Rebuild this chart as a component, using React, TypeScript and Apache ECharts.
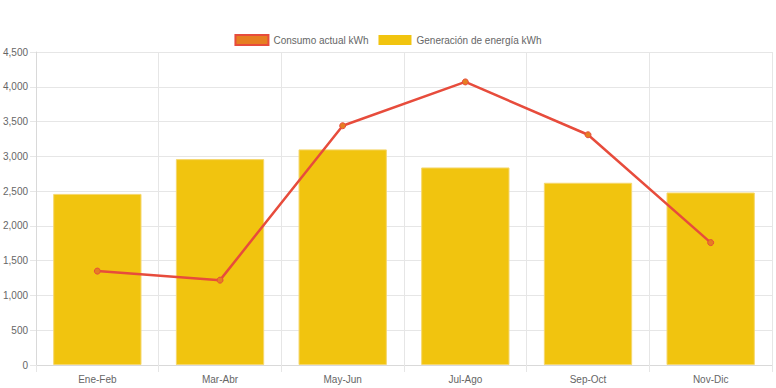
import React, { useEffect, useRef } from "react";
import * as echarts from "echarts";

const categories = ["Ene-Feb", "Mar-Abr", "May-Jun", "Jul-Ago", "Sep-Oct", "Nov-Dic"];
const consumo = [1350, 1220, 3440, 4070, 3310, 1760];
const generacion = [2460, 2960, 3100, 2840, 2620, 2480];
const yTicks = { min: 0, max: 4500, interval: 500 };

const FONT = "Liberation Sans, Arial, Helvetica, sans-serif";

export default function App() {
  const ref = useRef<HTMLDivElement>(null);
  useEffect(() => {
    if (!ref.current) return;
    const chart = echarts.init(ref.current, undefined, { renderer: "svg" });
    chart.setOption({
      animation: false,
      textStyle: { fontFamily: FONT },
      legend: {
        top: 29,
        left: "center",
        itemWidth: 33,
        itemHeight: 10,
        itemGap: 10,
        textStyle: { fontSize: 10, color: "#666", fontFamily: FONT },
        data: [
          {
            name: "Consumo actual kWh",
            icon: "rect",
            itemStyle: { color: "#E67E22", borderColor: "#E74C3C", borderWidth: 2 },
          },
          {
            name: "Generación de energía kWh",
            icon: "rect",
            itemStyle: { color: "#F1C40F", borderColor: "#F1C40F", borderWidth: 0 },
          },
        ],
      },
      grid: { left: 35, right: 4, top: 52, bottom: 23, containLabel: false },
      xAxis: {
        type: "category",
        data: categories,
        boundaryGap: true,
        axisLine: { show: true, lineStyle: { color: "#d9d9d9" } },
        axisTick: { show: true, length: 7, alignWithLabel: false, lineStyle: { color: "#e6e6e6" } },
        splitLine: { show: true, lineStyle: { color: "#e6e6e6" } },
        axisLabel: { fontSize: 10, color: "#666", margin: 9, fontFamily: FONT },
      },
      yAxis: {
        type: "value",
        min: yTicks.min,
        max: yTicks.max,
        interval: yTicks.interval,
        axisLine: { show: true, lineStyle: { color: "#d9d9d9" } },
        axisTick: { show: true, length: 6, lineStyle: { color: "#e6e6e6" } },
        splitLine: { show: true, lineStyle: { color: "#e6e6e6" } },
        axisLabel: {
          fontSize: 10,
          color: "#666",
          margin: 8,
          fontFamily: FONT,
          formatter: (v: number) => v.toLocaleString("en-US"),
        },
      },
      series: [
        {
          name: "Consumo actual kWh",
          type: "line",
          data: consumo,
          z: 5,
          symbol: "circle",
          symbolSize: 6,
          lineStyle: { color: "#E74C3C", width: 2.5 },
          itemStyle: { color: "#E67E22", borderColor: "#E74C3C", borderWidth: 1 },
        },
        {
          name: "Generación de energía kWh",
          type: "bar",
          data: generacion,
          barWidth: "72%",
          z: 2,
          itemStyle: { color: "#F1C40F", borderColor: "#F5D76E", borderWidth: 1 },
        },
      ],
    });
    return () => chart.dispose();
  }, []);
  return <div ref={ref} style={{ width: 776, height: 388, position: "absolute", left: 0, top: 0 }} />;
}
